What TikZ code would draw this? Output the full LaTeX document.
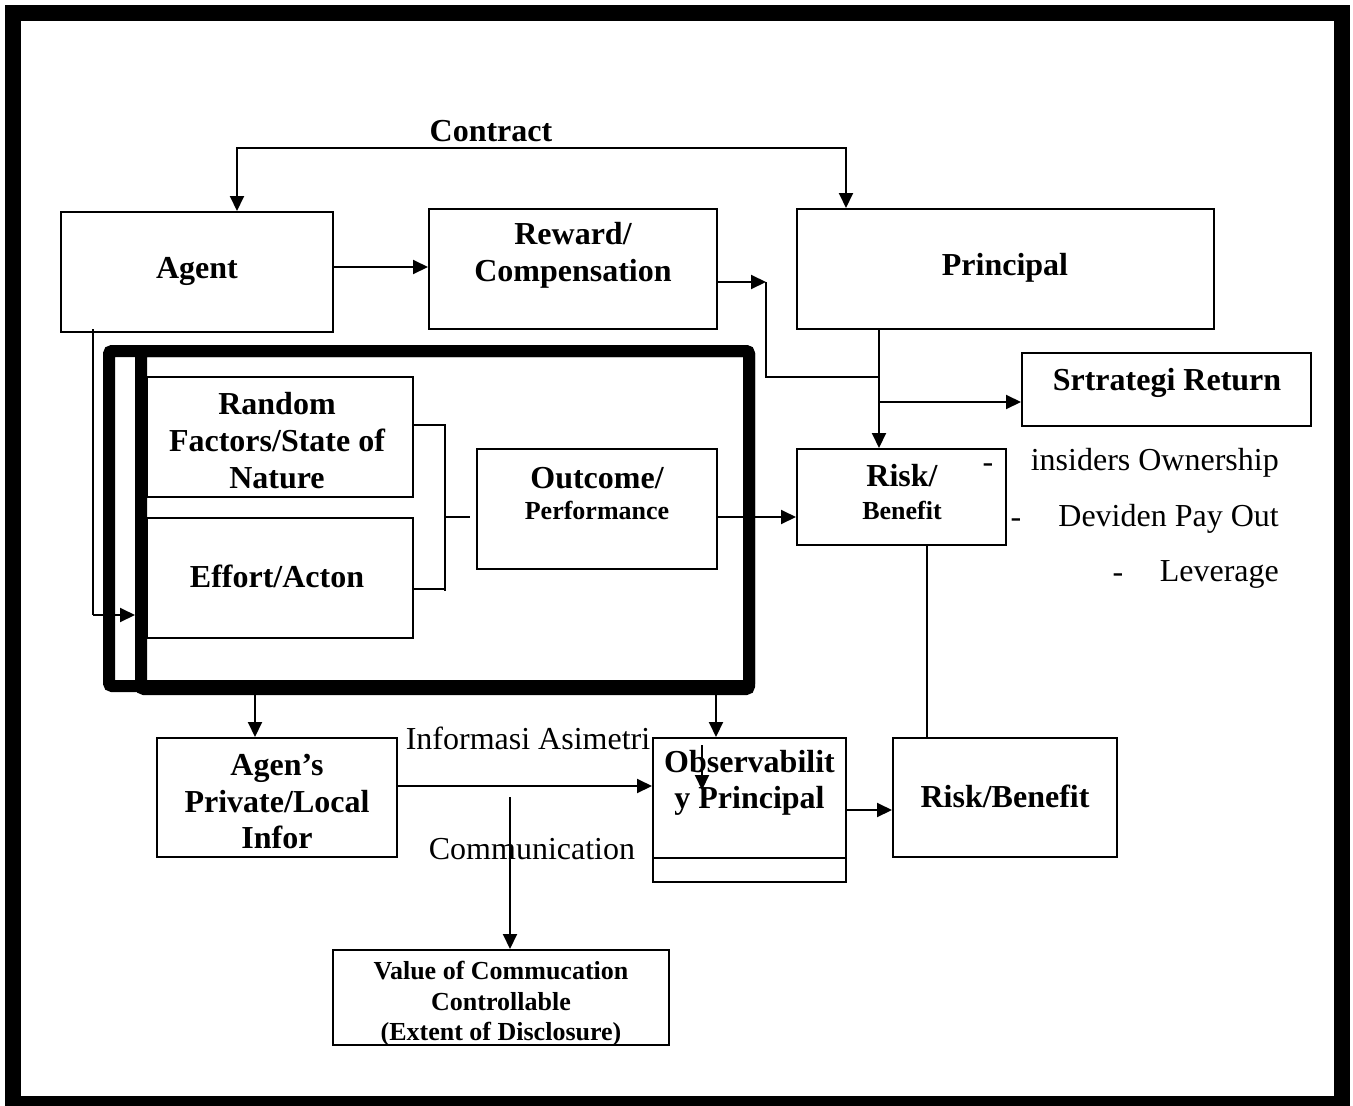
\documentclass[tikz,border=0pt]{standalone}
\usepackage{fontspec}
\setmainfont{Liberation Serif}
\usetikzlibrary{arrows.meta}
\begin{document}
\begin{tikzpicture}[x=1pt,y=-1pt,
  box/.style={draw, line width=2pt, inner sep=0pt},
  thickbox/.style={draw, line width=12pt, rounded corners=3pt, inner sep=0pt},
  ln/.style={line width=2pt},
  arr/.style={line width=2pt, -{Triangle[length=15pt,width=14pt]}},
  arrtwo/.style={line width=2pt, {Triangle[length=15pt,width=14pt]}-{Triangle[length=15pt,width=14pt]}},
  bt/.style={font=\fontsize{32}{37}\selectfont\bfseries, align=center, inner sep=0pt},
  bs/.style={font=\fontsize{26}{30.5}\selectfont\bfseries, align=center, inner sep=0pt},
  rt/.style={font=\fontsize{32}{37}\selectfont, inner sep=0pt}]
\useasboundingbox (0,0) rectangle (1353,1106);
% outer frame
\draw[line width=16pt] (13,13) rectangle (1341.5,1104);
% thick group boxes
\node[thickbox, minimum width=640, minimum height=335] (tbA) at (429,518.5) {};
\node[thickbox, minimum width=608, minimum height=338] (tbB) at (445,520) {};
% boxes
\node[box, minimum width=272, minimum height=120] (agent) at (197,272) {};
\node[box, minimum width=288, minimum height=120] (reward) at (573,269) {};
\node[box, minimum width=417, minimum height=120] (principal) at (1005.5,269) {};
\node[box, minimum width=289, minimum height=73] (srt) at (1166.5,389.5) {};
\node[box, minimum width=266, minimum height=120] (random) at (280,437) {};
\node[box, minimum width=266, minimum height=120] (effort) at (280,578) {};
\node[box, minimum width=240, minimum height=120] (outcome) at (597,509) {};
\node[box, minimum width=209, minimum height=96] (risk) at (901.5,497) {};
\node[box, minimum width=240, minimum height=119] (agen) at (277,797.5) {};
\node[box, minimum width=193, minimum height=120] (obs) at (749.5,798) {};
\node[box, minimum width=193, minimum height=24] (obsstrip) at (749.5,870) {};
\node[box, minimum width=224, minimum height=119] (riskb) at (1005,797.5) {};
\node[box, minimum width=336, minimum height=95] (value) at (501,997.5) {};
% texts
\node[bt] (tcontract) at (491,131) {Contract};
\node[bt] (tagent) at (197,271) {Agent};
\node[bt] (treward) at (573,255) {Reward/\\Compensation};
\node[bt] (tprincipal) at (1005,268) {Principal};
\node[bt] (tsrt) at (1167,383) {Srtrategi Return};
\node[bt] (trandom) at (277,441) {Random\\Factors/State of\\Nature};
\node[bt] (teffort) at (277,576) {Effort/Acton};
\node[bt] (toutcome) at (597,478) {Outcome/};
\node[bs] (tperf) at (597,510) {Performance};
\node[bt] (trisk) at (902,476) {Risk/};
\node[bs] (tbenefit) at (902,510) {Benefit};
\node[bt, font=\fontsize{32}{36.5}\selectfont\bfseries] (tagen) at (277,802) {Agen’s\\Private/Local\\Infor};
\node[bt, font=\fontsize{32}{36}\selectfont\bfseries] (tobs) at (749.5,783) {Observabilit\\y Principal};
\node[bt] (triskb) at (1005,796) {Risk/Benefit};
\node[bs] (tvalue) at (501,1004) {Value of Commucation\\Controllable\\(Extent of Disclosure)};
\node[rt] (tinfo) at (528,738) {Informasi Asimetri};
\node[rt] (tcomm) at (532,849) {Communication};
\node[rt, anchor=base] (dash1) at (988,472) {-};
\node[rt, anchor=base] (dash2) at (1016,527) {-};
\node[rt, anchor=base] (dash3) at (1118,582) {-};
\node[rt, anchor=base east] (tins) at (1279,470) {insiders Ownership};
\node[rt, anchor=base east] (tdev) at (1279,526) {Deviden Pay Out};
\node[rt, anchor=base east] (tlev) at (1279,581) {Leverage};
% connectors
\coordinate (c1) at (237,148);
\coordinate (c2) at (846,148);
\draw[arrtwo] (c1 |- agent.north) -- (c1) -- (c2) -- (c2 |- principal.north);
\draw[arr] (agent.east |- 0,267) -- (reward.west |- 0,267);
\coordinate (k1) at (766,282);
\coordinate (k2) at (766,377);
\coordinate (k3) at (879,377);
\draw[arr] (reward.east |- k1) -- (k1);
\draw[ln] (k1) -- (k2) -- (k3);
\draw[arr] (principal.south -| k3) -- (risk.north -| k3);
\coordinate (s1) at (879,402);
\draw[arr] (s1) -- (s1 -| srt.west);
\draw[arr] (outcome.east |- 0,517) -- (risk.west |- 0,517);
\coordinate (b1) at (445,425);
\coordinate (b2) at (445,591);
\coordinate (b3) at (445,517);
\coordinate (b4) at (470,517);
\draw[ln] (random.east |- b1) -- (b1) -- (b2);
\draw[ln] (effort.east |- 0,589) -- (445,589);
\draw[ln] (b3) -- (b4);
\coordinate (a1) at (93,329);
\coordinate (a2) at (93,615);
\draw[ln] (a1) -- (a2);
\draw[arr] (a2) -- (a2 -| tbB.west);
\coordinate (d1) at (255,692);
\coordinate (d2) at (716,692);
\draw[arr] (d1) -- (d1 |- agen.north);
\draw[arr] (d2) -- (d2 |- obs.north);
\draw[arr] (agen.east |- 0,786) -- (obs.west |- 0,786);
\coordinate (m1) at (510,797);
\draw[arr] (m1) -- (m1 |- value.north);
\coordinate (i1) at (702,745);
\coordinate (i2) at (702,790);
\draw[arr] (i1) -- (i2);
\draw[arr] (obs.east |- 0,810) -- (riskb.west |- 0,810);
\coordinate (r1) at (927,545);
\draw[ln] (r1) -- (r1 |- riskb.north);
\end{tikzpicture}
\end{document}
